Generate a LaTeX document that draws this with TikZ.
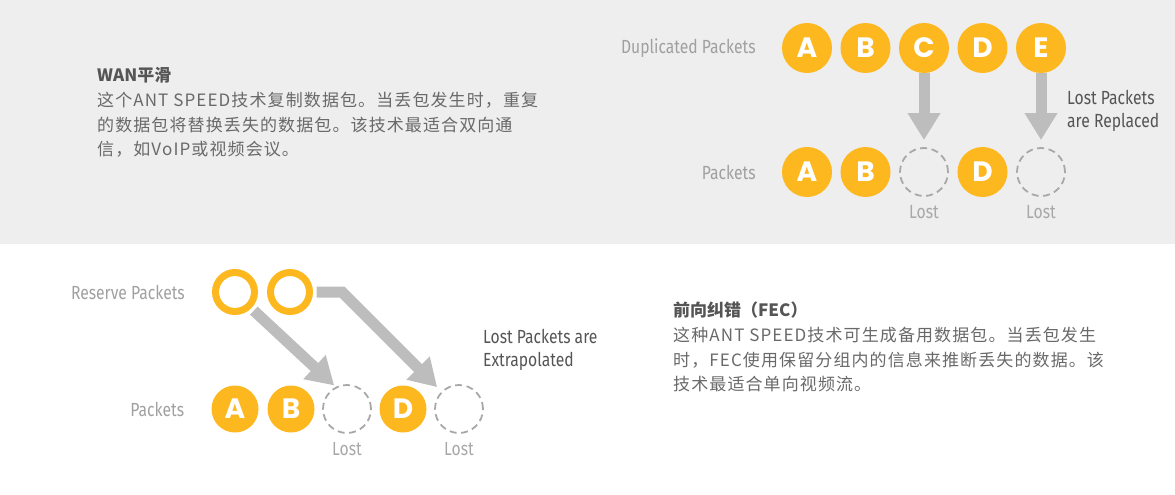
\documentclass[tikz,border=0pt]{standalone}
\usepackage{fontspec}
\usetikzlibrary{positioning, arrows.meta}
\newfontfamily\cjkfont[LetterSpace=6.5]{Noto Sans CJK SC}
\newfontfamily\cjkhead{Noto Sans CJK SC}
\newfontfamily\condfont[FakeStretch=0.825]{Fira Sans}
\newfontfamily\pktfont{Poppins}
\definecolor{bggray}{HTML}{EEEEEE}
\definecolor{pktorange}{HTML}{FDB71F}
\definecolor{arrowgray}{HTML}{BDBDBD}
\definecolor{lostgray}{HTML}{A8A8A8}
\definecolor{labelgray}{HTML}{A0A0A0}
\definecolor{notegray}{HTML}{555555}
\definecolor{bodygray}{HTML}{696969}
\tikzset{
packet/.style={circle, fill=pktorange, minimum size=50pt, inner sep=0pt, text=white, font=\pktfont\bfseries\fontsize{28}{28}\selectfont}, % full packet
lost/.style={circle, draw=lostgray, line width=1.8pt, dash pattern=on 7pt off 4.5pt, minimum size=48pt, inner sep=0pt}, % missing packet
reserve/.style={circle, draw=pktorange, line width=7pt, minimum size=39pt, inner sep=0pt}, % empty reserve packet
rowlabel/.style={text=labelgray, font=\condfont\fontsize{19}{19}\selectfont, inner sep=0pt}, % row names
lostlbl/.style={text=lostgray, font=\condfont\fontsize{19}{19}\selectfont, inner sep=0pt},
notelabel/.style={text=notegray, align=left, font=\condfont\fontsize{19}{23}\selectfont, inner sep=0pt},
fatarrow/.style={draw=arrowgray, line width=11pt, line join=miter, -{Triangle[width=31pt, length=27pt]}}, % thick gray arrows
headtext/.style={text=notegray, font=\cjkhead\bfseries\fontsize{17}{17}\selectfont, inner sep=0pt},
bodytext/.style={text=bodygray, align=left, font=\cjkfont\fontsize{17}{24.5}\selectfont, inner sep=0pt},
}
\begin{document}
\begin{tikzpicture}[x=1pt, y=-1pt]
  \useasboundingbox (0,0) rectangle (1175,495);
  \fill[bggray] (0,0) rectangle (1175,244);

  % WAN smoothing
  \begin{scope}[node distance=58.5pt]
    \node[packet] (d1) at (807,48) {A};
    \node[packet, right of=d1] (d2) {B};
    \node[packet, right of=d2] (d3) {C};
    \node[packet, right of=d3] (d4) {D};
    \node[packet, right of=d4] (d5) {E};
    \node[packet] (p1) at (807,172) {A};
    \node[packet, right of=p1] (p2) {B};
    \node[lost, right of=p2] (p3) {};
    \node[packet, right of=p3] (p4) {D};
    \node[lost, right of=p4] (p5) {};
  \end{scope}
  \node[rowlabel, left=26pt of d1] (duplbl) {Duplicated Packets};
  \node[rowlabel, left=26pt of p1] (pktlbl) {Packets};
  \node[lostlbl, below=8pt of p3] (lost1) {Lost};
  \node[lostlbl, below=8pt of p5] (lost2) {Lost};
  \draw[fatarrow, shorten >=7pt] (d3) -- (p3);
  \draw[fatarrow, shorten >=7pt] (d5) -- (p5);
  \node[notelabel, anchor=west] (replbl) at (1067,110.5) {Lost Packets\\are Replaced};

  \node[headtext, anchor=west] (wantitle) at (97,75) {WAN平滑};
  \node[bodytext, anchor=west] (wanbody) at (97,125) {这个ANT SPEED技术复制数据包。当丢包发生时，重复\\的数据包将替换丢失的数据包。该技术最适合双向通\\信，如VoIP或视频会议。};

  % forward error correction
  \begin{scope}[node distance=56pt]
    \node[reserve] (r1) at (235,292) {};
    \node[reserve, right of=r1, node distance=55pt] (r2) {};
    \node[packet, minimum size=47pt] (q1) at (235,409) {A};
    \node[packet, minimum size=47pt, right of=q1] (q2) {B};
    \node[lost, right of=q2] (q3) {};
    \node[packet, minimum size=47pt, right of=q3] (q4) {D};
    \node[lost, right of=q4] (q5) {};
  \end{scope}
  \node[rowlabel, left=27pt of r1] (reslbl) {Reserve Packets};
  \node[rowlabel, left=27pt of q1] (pktlbl2) {Packets};
  \node[lostlbl, below=8pt of q3] (lost3) {Lost};
  \node[lostlbl, below=8pt of q5] (lost4) {Lost};
  \draw[fatarrow, shorten <=3.5pt, shorten >=2pt] (r1.-45) -- (q3.117);
  \draw[fatarrow, shorten <=3.5pt, shorten >=6pt] (r2.east) -- ++(29,0) coordinate (bend) -- (q5.135);
  \node[notelabel, anchor=west] (extlbl) at (483,350) {Lost Packets are\\Extrapolated};

  \node[headtext, anchor=west] (fectitle) at (673,310) {前向纠错（FEC）};
  \node[bodytext, anchor=west] (fecbody) at (673,360) {这种ANT SPEED技术可生成备用数据包。当丢包发生\\时，FEC使用保留分组内的信息来推断丢失的数据。该\\技术最适合单向视频流。};
\end{tikzpicture}
\end{document}
